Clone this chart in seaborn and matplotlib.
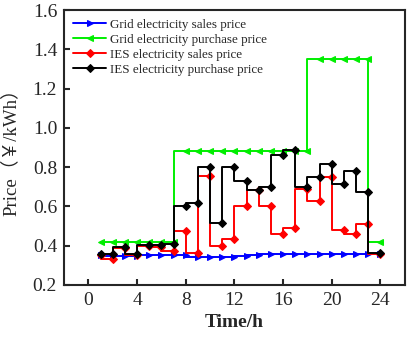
import matplotlib
matplotlib.use("Agg")
import matplotlib.pyplot as plt
import seaborn as sns
import pandas as pd

hours = list(range(1, 25))
grid_sales = [0.35, 0.345, 0.345, 0.345, 0.35, 0.35, 0.35, 0.35, 0.34, 0.34, 0.34, 0.34,
              0.345, 0.35, 0.36, 0.36, 0.36, 0.36, 0.36, 0.36, 0.36, 0.36, 0.36, 0.36]
grid_purchase = [0.42] * 7 + [0.88] * 11 + [1.35] * 5 + [0.42]
ies_sales = [0.35, 0.33, 0.39, 0.355, 0.40, 0.395, 0.375, 0.475, 0.365, 0.755, 0.40, 0.435,
             0.60, 0.685, 0.60, 0.46, 0.49, 0.69, 0.63, 0.75, 0.48, 0.46, 0.51, 0.36]
ies_purchase = [0.36, 0.36, 0.395, 0.36, 0.405, 0.405, 0.41, 0.60, 0.615, 0.80, 0.515, 0.80,
                0.73, 0.685, 0.70, 0.86, 0.885, 0.70, 0.75, 0.815, 0.715, 0.78, 0.675, 0.365]

names = ["Grid electricity sales price", "Grid electricity purchase price",
         "IES electricity sales price", "IES electricity purchase price"]
colors = ["#0000ff", "#00ee00", "#ff0000", "#000000"]
markers = [">", "<", "D", "D"]
series = [grid_sales, grid_purchase, ies_sales, ies_purchase]

sns.set_style("ticks")
plt.rcParams["font.family"] = ["Liberation Serif", "Noto Sans CJK SC", "DejaVu Sans"]

fig = plt.figure(figsize=(4.08, 3.38), dpi=100)
ax = fig.add_axes([0.157, 0.157, 0.835, 0.813])

for name, vals, c, m in zip(names, series, colors, markers):
    df = pd.DataFrame({"hour": hours, "price": vals})
    sns.lineplot(data=df, x="hour", y="price", ax=ax, color=c, marker=m,
                 markersize=5 if m != "D" else 4.2, markeredgecolor=c,
                 linewidth=1.4, drawstyle="steps-pre", label=name)

ax.set_xlim(-2, 26)
ax.set_ylim(0.2, 1.6)
ax.set_xticks(range(0, 25, 4))
ax.set_yticks([0.2, 0.4, 0.6, 0.8, 1.0, 1.2, 1.4, 1.6])
ax.set_yticklabels(["0.2", "0.4", "0.6", "0.8", "1.0", "1.2", "1.4", "1.6"])
ax.tick_params(direction="in", length=4, width=1.5, labelsize=14, pad=5)
for s in ax.spines.values():
    s.set_linewidth(1.5)
ax.set_xlabel("Time/h", fontsize=14, fontweight="bold")
ax.set_ylabel("Price（￥/kWh）", fontsize=13.5, labelpad=9)

leg = ax.legend(loc="upper left", frameon=False, fontsize=9.4, handlelength=2.6,
                borderaxespad=0.25, labelspacing=0.22, handletextpad=0.3)

fig.savefig("out.png", dpi=100)
